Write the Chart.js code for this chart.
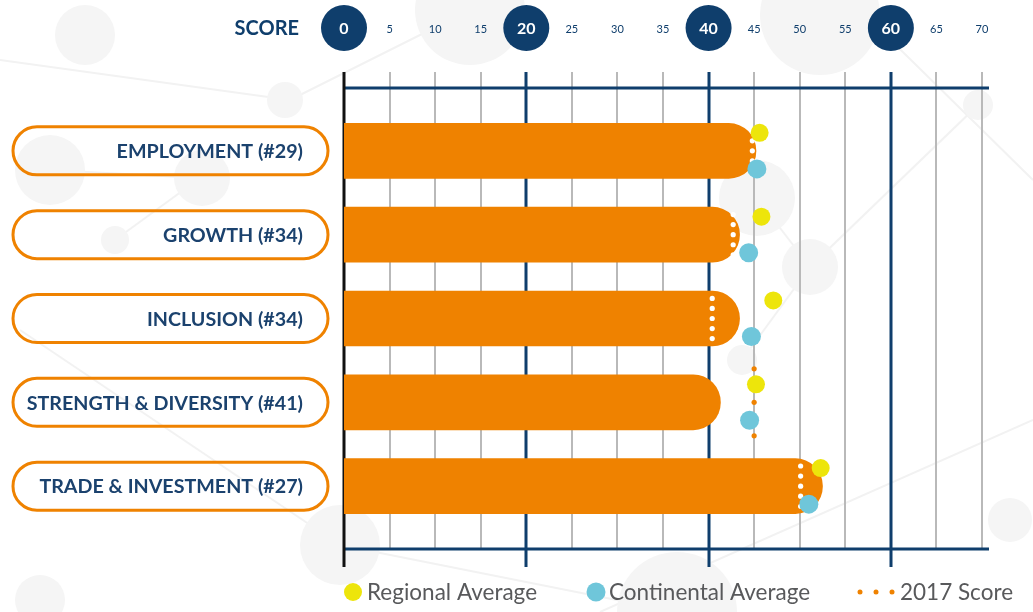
<!DOCTYPE html>
<html>
<head>
<meta charset="utf-8">
<script src="https://cdn.jsdelivr.net/npm/chart.js@4.4.1/dist/chart.umd.min.js"></script>
<style>
  html, body { margin: 0; padding: 0; background: #fff; }
  #wrap { width: 1033px; height: 612px; position: relative; }
</style>
</head>
<body>
<div id="wrap"><canvas id="chart" width="1033" height="612"></canvas></div>
<script>
// chart values
const categories = ['EMPLOYMENT (#29)', 'GROWTH (#34)', 'INCLUSION (#34)', 'STRENGTH & DIVERSITY (#41)', 'TRADE & INVESTMENT (#27)'];
const scores = [45.2, 43.4, 43.4, 41.3, 52.5];
const regionalAvg = [45.6, 45.8, 47.1, 45.2, 52.3];
const continentalAvg = [45.3, 44.4, 44.7, 44.5, 51.0];
const score2017 = [44.8, 42.7, 40.4, 45.0, 50.1];
const majorTicks = [0, 20, 40, 60];
const legendLabels = ['Regional Average', 'Continental Average', '2017 Score'];

const NAVY = '#0f3e6c';
const ORANGE = '#ef8200';
const YELLOW = '#ede50b';
const BLUE = '#6fc6da';

// 2017 marker = short dotted vertical line, white inside the bar, orange outside
const dots2017 = [];
const dotColors = [];
score2017.forEach((v, i) => {
    const inside = v <= scores[i];
    const step = inside ? 0.12 : 0.2;
    for (let k = -2; k <= 2; k++) {
        dots2017.push({ x: v, y: i + k * step });
        dotColors.push(inside ? '#ffffff' : ORANGE);
    }
});

const backgroundDecor = {
    id: 'backgroundDecor',
    beforeDraw(chart) {
        const ctx = chart.ctx;
        ctx.save();
        ctx.fillStyle = '#fff';
        ctx.fillRect(0, 0, chart.width, chart.height);
        ctx.strokeStyle = '#f2f2f2';
        ctx.lineWidth = 2;
        const lines = [[0, 60, 290, 100], [290, 100, 470, 10], [50, 170, 200, 178], [200, 178, 115, 240], [757, 198, 810, 267],
            [810, 267, 978, 105], [20, 330, 340, 545], [340, 545, 677, 612], [742, 360, 810, 267], [850, 0, 1033, 180], [600, 612, 1033, 420]];
        lines.forEach(l => { ctx.beginPath(); ctx.moveTo(l[0], l[1]); ctx.lineTo(l[2], l[3]); ctx.stroke(); });
        ctx.fillStyle = '#f5f5f5';
        const circles = [[85, 35, 30], [285, 100, 18], [470, 10, 55], [820, 15, 60], [978, 105, 15], [50, 170, 35], [202, 178, 28],
            [115, 240, 14], [757, 198, 38], [810, 267, 28], [742, 360, 15], [340, 545, 40], [677, 612, 60], [40, 600, 25], [1010, 520, 22]];
        circles.forEach(c => { ctx.beginPath(); ctx.arc(c[0], c[1], c[2], 0, Math.PI * 2); ctx.fill(); });
        ctx.restore();
    }
};

const gridAndLabels = {
    id: 'gridAndLabels',
    beforeDatasetsDraw(chart) {
        const ctx = chart.ctx;
        const xs = chart.scales.x, ys = chart.scales.y;
        const top = chart.chartArea.top, bottom = chart.chartArea.bottom;
        const ticks = xs.ticks.map(t => t.value);
        ctx.save();
        // minor grid
        ctx.strokeStyle = '#b9b9b9';
        ctx.lineWidth = 2;
        ticks.forEach(v => {
            if (majorTicks.includes(v)) return;
            const px = Math.round(xs.getPixelForValue(v));
            ctx.beginPath(); ctx.moveTo(px, top - 16); ctx.lineTo(px, bottom); ctx.stroke();
        });
        // horizontal frame lines
        ctx.strokeStyle = NAVY;
        ctx.lineWidth = 3;
        const xEnd = xs.getPixelForValue(xs.max) + 7;
        [top, bottom].forEach(py => {
            ctx.beginPath(); ctx.moveTo(xs.getPixelForValue(0), py); ctx.lineTo(xEnd, py); ctx.stroke();
        });
        // major lines
        majorTicks.forEach(v => {
            const px = Math.round(xs.getPixelForValue(v));
            ctx.strokeStyle = v === 0 ? '#111' : NAVY;
            ctx.beginPath(); ctx.moveTo(px, top - 16); ctx.lineTo(px, bottom + 18); ctx.stroke();
        });
        // top score axis
        const ty = 28;
        ctx.textBaseline = 'middle';
        ctx.textAlign = 'right';
        ctx.fillStyle = NAVY;
        ctx.font = 'bold 20px Lato';
        ctx.fillText('SCORE', 299, ty + 1);
        ctx.textAlign = 'center';
        ticks.forEach(v => {
            const px = xs.getPixelForValue(v);
            if (majorTicks.includes(v)) {
                ctx.fillStyle = NAVY;
                ctx.beginPath(); ctx.arc(px, ty, 23, 0, Math.PI * 2); ctx.fill();
                ctx.fillStyle = '#fff';
                ctx.font = 'bold 16px Lato';
                ctx.fillText(String(v), px, ty + 1);
            } else {
                ctx.fillStyle = NAVY;
                ctx.font = '11px Lato';
                ctx.fillText(String(v), px, ty + 1);
            }
        });
        // category pills
        categories.forEach((name, i) => {
            const cy = ys.getPixelForValue(i);
            const x0 = 13, x1 = 328, h = 48, r = h / 2;
            ctx.strokeStyle = ORANGE;
            ctx.lineWidth = 3;
            ctx.beginPath();
            ctx.moveTo(x0 + r, cy - r);
            ctx.lineTo(x1 - r, cy - r);
            ctx.arc(x1 - r, cy, r, -Math.PI / 2, Math.PI / 2);
            ctx.lineTo(x0 + r, cy + r);
            ctx.arc(x0 + r, cy, r, Math.PI / 2, Math.PI * 1.5);
            ctx.closePath();
            ctx.stroke();
            ctx.fillStyle = '#1b426e';
            ctx.font = 'bold 19.7px Lato';
            ctx.textAlign = 'right';
            ctx.fillText(name, 303, cy + 1);
        });
        ctx.restore();
    },
    afterDraw(chart) {
        const ctx = chart.ctx;
        const ly = 592;
        ctx.save();
        ctx.font = '22.5px Lato';
        ctx.textBaseline = 'middle';
        ctx.textAlign = 'left';
        ctx.fillStyle = YELLOW;
        ctx.beginPath(); ctx.arc(353, ly, 9, 0, Math.PI * 2); ctx.fill();
        ctx.fillStyle = BLUE;
        ctx.beginPath(); ctx.arc(596, ly, 9.5, 0, Math.PI * 2); ctx.fill();
        ctx.fillStyle = ORANGE;
        [860, 876, 892].forEach(x => { ctx.beginPath(); ctx.arc(x, ly, 2.5, 0, Math.PI * 2); ctx.fill(); });
        ctx.fillStyle = '#58595b';
        ctx.fillText(legendLabels[0], 367, ly + 1);
        ctx.fillText(legendLabels[1], 609, ly + 1);
        ctx.fillText(legendLabels[2], 900, ly + 1);
        ctx.restore();
    }
};

const ctx = document.getElementById('chart').getContext('2d');
new Chart(ctx, {
    type: 'bar',
    data: {
        datasets: [
            {
                type: 'scatter', label: legendLabels[0], order: 0,
                data: regionalAvg.map((v, i) => ({ x: v, y: i - 0.215 })),
                backgroundColor: YELLOW, pointRadius: 9, pointHoverRadius: 9, borderWidth: 0
            },
            {
                type: 'scatter', label: legendLabels[1], order: 1,
                data: continentalAvg.map((v, i) => ({ x: v, y: i + 0.215 })),
                backgroundColor: BLUE, pointRadius: 9.5, pointHoverRadius: 9.5, borderWidth: 0
            },
            {
                type: 'scatter', label: legendLabels[2], order: 2,
                data: dots2017,
                backgroundColor: dotColors, pointRadius: 2.6, pointHoverRadius: 2.6, borderWidth: 0
            },
            {
                type: 'bar', label: 'Score', order: 3, indexAxis: 'y',
                data: scores.map((v, i) => ({ x: v, y: i })),
                backgroundColor: ORANGE, borderRadius: 28, borderSkipped: 'start',
                barThickness: 55
            }
        ]
    },
    options: {
        responsive: false,
        animation: false,
        devicePixelRatio: 1,
        events: [],
        layout: { padding: { left: 336, right: 51, top: 88, bottom: 55 } },
        scales: {
            x: {
                type: 'linear', min: 0, max: 70, offset: false,
                ticks: { display: false, stepSize: 5 },
                grid: { display: false, offset: false }, border: { display: false }
            },
            y: {
                type: 'linear', min: -0.75, max: 4.75, reverse: true, offset: false,
                ticks: { display: false },
                grid: { display: false, offset: false }, border: { display: false }
            }
        },
        plugins: {
            legend: { display: false },
            tooltip: { enabled: false }
        }
    },
    plugins: [backgroundDecor, gridAndLabels]
});
</script>
</body>
</html>
